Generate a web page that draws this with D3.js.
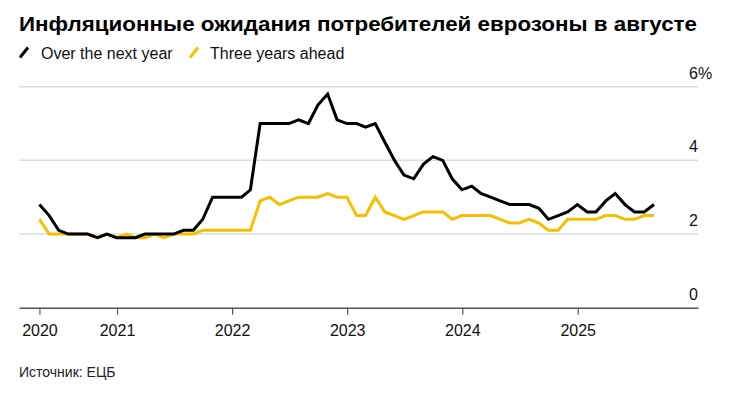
<!DOCTYPE html>
<html><head><meta charset="utf-8">
<script src="https://cdn.jsdelivr.net/npm/d3@7"></script>
<style>
html,body{margin:0;padding:0;background:#fff;}
svg{display:block;font-family:"Liberation Sans",Arial,sans-serif;}
</style></head>
<body><svg id="c" width="750" height="397"></svg>
<script>
const titleText = "Инфляционные ожидания потребителей еврозоны в августе";
const sourceText = "Источник: ЕЦБ";
const seriesNames = ["Over the next year", "Three years ahead"];
const months = [
 "2020-04","2020-05","2020-06","2020-07","2020-08","2020-09","2020-10","2020-11","2020-12",
 "2021-01","2021-02","2021-03","2021-04","2021-05","2021-06","2021-07","2021-08","2021-09","2021-10","2021-11","2021-12",
 "2022-01","2022-02","2022-03","2022-04","2022-05","2022-06","2022-07","2022-08","2022-09","2022-10","2022-11","2022-12",
 "2023-01","2023-02","2023-03","2023-04","2023-05","2023-06","2023-07","2023-08","2023-09","2023-10","2023-11","2023-12",
 "2024-01","2024-02","2024-03","2024-04","2024-05","2024-06","2024-07","2024-08","2024-09","2024-10","2024-11","2024-12",
 "2025-01","2025-02","2025-03","2025-04","2025-05","2025-06","2025-07","2025-08"
];
const nextYear = [
 2.8,2.5,2.1,2.0,2.0,2.0,1.9,2.0,1.9,
 1.9,1.9,2.0,2.0,2.0,2.0,2.1,2.1,2.4,3.0,3.0,3.0,
 3.0,3.2,5.0,5.0,5.0,5.0,5.1,5.0,5.5,5.8,5.1,5.0,
 5.0,4.9,5.0,4.5,4.0,3.6,3.5,3.9,4.1,4.0,3.5,3.2,
 3.3,3.1,3.0,2.9,2.8,2.8,2.8,2.7,2.4,2.5,2.6,2.8,
 2.6,2.6,2.9,3.1,2.8,2.6,2.6,2.8
];
const threeYears = [
 2.4,2.0,2.0,2.0,2.0,2.0,1.9,2.0,1.9,
 2.0,1.9,1.9,2.0,1.9,2.0,2.0,2.0,2.1,2.1,2.1,2.1,
 2.1,2.1,2.9,3.0,2.8,2.9,3.0,3.0,3.0,3.1,3.0,3.0,
 2.5,2.5,3.0,2.6,2.5,2.4,2.5,2.6,2.6,2.6,2.4,2.5,
 2.5,2.5,2.5,2.4,2.3,2.3,2.4,2.3,2.1,2.1,2.4,2.4,
 2.4,2.4,2.5,2.5,2.4,2.4,2.5,2.5
];
const yearLabels = ["2020","2021","2022","2023","2024","2025"];
const yTicks = [0, 2, 4, 6];

const colors = ["#000000", "#f5bf00"];
const svg = d3.select("#c");
svg.append("rect").attr("width",750).attr("height",397).attr("fill","#fff");

// month-end dates
const dates = months.map(m => { const [y, mo] = m.split("-").map(Number); return new Date(y, mo, 0); });

// x scale anchored on yearly positions, then extended to full axis extent
const x = d3.scaleTime().domain([new Date(2021,0,1), new Date(2025,0,1)]).range([117, 577.7]);
x.domain([x.invert(19), x.invert(698)]).range([19, 698]);
const y = d3.scaleLinear().domain([0, 6]).range([307.7, 86.7]);

// gridlines
svg.append("g").selectAll("line").data(yTicks.filter(v => v !== 0)).join("line")
  .attr("x1", 19).attr("x2", 698)
  .attr("y1", d => y(d)).attr("y2", d => y(d))
  .attr("stroke", "#dcdcdc").attr("stroke-width", 1.5);

// y labels
svg.append("g").selectAll("text").data(yTicks).join("text")
  .attr("x", 689).attr("y", d => y(d) - 8)
  .attr("font-size", 16).attr("fill", "#111")
  .text(d => d === 6 ? d + "%" : d);

// x axis
const tickDates = yearLabels.map((l, i) => i === 0 ? dates[0] : new Date(+l, 0, 1));
const xAxis = d3.axisBottom(x).tickValues(tickDates).tickSize(7).tickSizeOuter(0).tickPadding(10)
  .tickFormat((d, i) => yearLabels[i]);
const gx = svg.append("g").attr("transform", `translate(0,${y(0)})`).call(xAxis);
gx.select(".domain").attr("stroke", "#555").attr("stroke-width", 1.5);
gx.selectAll(".tick line").attr("stroke", "#555").attr("stroke-width", 1.2);
gx.selectAll(".tick text").attr("font-size", 16).attr("fill", "#111")
  .attr("font-family", '"Liberation Sans",Arial,sans-serif');

// lines
const line = d3.line().x((d, i) => x(dates[i])).y(d => y(d));
[threeYears, nextYear].forEach((s, k) => {
  svg.append("path").datum(s).attr("d", line)
    .attr("fill", "none").attr("stroke", k === 0 ? colors[1] : colors[0])
    .attr("stroke-width", 3).attr("stroke-linejoin", "miter").attr("stroke-miterlimit", 3);
});

// title
const t = svg.append("text").attr("x", 19).attr("y", 30.5)
  .attr("font-size", 20).attr("font-weight", "bold").attr("fill", "#000").text(titleText);
const tw = t.node().getComputedTextLength();
if (Math.abs(tw - 678) > 4) t.attr("textLength", 678).attr("lengthAdjust", "spacingAndGlyphs");

// legend
const legX = [20, 190];
const legTX = [41, 210];
seriesNames.forEach((n, i) => {
  svg.append("line").attr("x1", legX[i]).attr("y1", 57.5).attr("x2", legX[i] + 8).attr("y2", 47.5)
    .attr("stroke", colors[i]).attr("stroke-width", 3);
  svg.append("text").attr("x", legTX[i]).attr("y", 59.3).attr("font-size", 16).attr("fill", "#111").text(n);
});

// source
svg.append("text").attr("x", 19).attr("y", 377).attr("font-size", 14).attr("fill", "#222").text(sourceText);
</script></body></html>
